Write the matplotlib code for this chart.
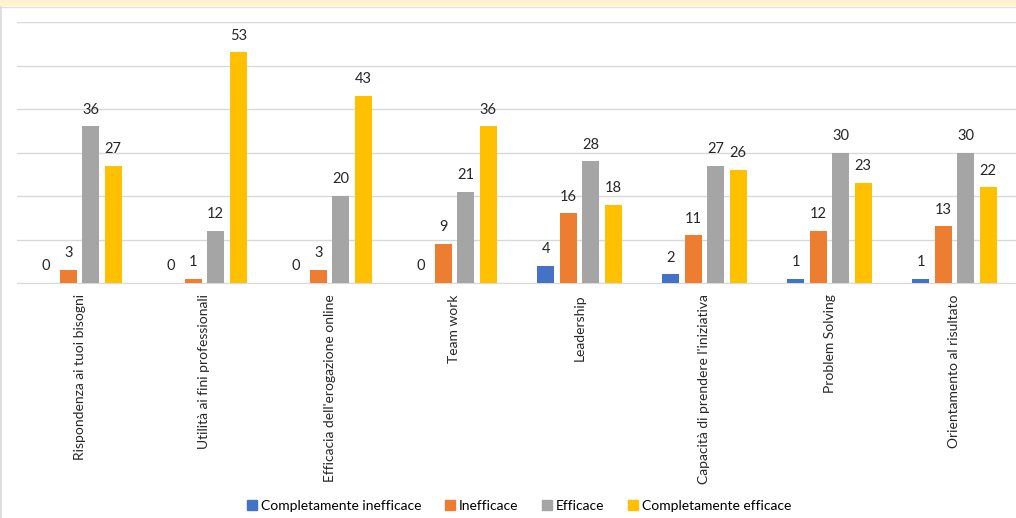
import matplotlib.pyplot as plt
import matplotlib.patches as mpatches
import numpy as np

categories = ["Rispondenza ai tuoi bisogni", "Utilità ai fini professionali",
              "Efficacia dell'erogazione online", "Team work", "Leadership",
              "Capacità di prendere l'iniziativa", "Problem Solving",
              "Orientamento al risultato"]
series_names = ["Completamente inefficace", "Inefficace", "Efficace", "Completamente efficace"]
comp_ineff = [0, 0, 0, 0, 4, 2, 1, 1]
ineff = [3, 1, 3, 9, 16, 11, 12, 13]
eff = [36, 12, 20, 21, 28, 27, 30, 30]
comp_eff = [27, 53, 43, 36, 18, 26, 23, 22]
colors = ["#4472C4", "#ED7D31", "#A5A5A5", "#FFC000"]

plt.rcParams['font.family'] = ['Lato', 'DejaVu Sans']

fig = plt.figure(figsize=(10.16, 5.18), dpi=100)
# top band + frame
fig.patches.append(mpatches.Rectangle((0, 1 - 6 / 518), 1, 6 / 518, transform=fig.transFigure,
                                      facecolor="#FFF2CC", edgecolor="none"))
fig.lines.append(plt.Line2D([0, 1], [1 - 6.5 / 518] * 2, transform=fig.transFigure, color="#E0E0E0", lw=1))
fig.lines.append(plt.Line2D([0.7 / 1016] * 2, [0, 1 - 6.5 / 518], transform=fig.transFigure, color="#D9D9D9", lw=1.2))

ax = fig.add_axes([17 / 1016, 1 - 283 / 518, 1000 / 1016, 261 / 518])
x = np.arange(len(categories))
data = [comp_ineff, ineff, eff, comp_eff]
w = 0.136
step = 0.18
for i, (vals, name, c) in enumerate(zip(data, series_names, colors)):
    pos = x + (i - 1.5) * step
    ax.bar(pos, vals, width=w, color=c, label=name, zorder=3)
    for p, v in zip(pos, vals):
        ax.text(p, v + 2.2, str(v), ha="center", va="bottom", fontsize=10.5, color="#262626")

ax.set_xlim(-0.5, len(categories) - 0.5)
ax.set_ylim(0, 60)
ax.set_yticks(range(0, 61, 10))
ax.yaxis.grid(True, color="#D9D9D9", lw=1, zorder=0)
ax.tick_params(axis="y", length=0, labelleft=False)
ax.tick_params(axis="x", length=0, pad=8)
ax.set_xticks(x)
ax.set_xticklabels(categories, rotation=90, fontsize=10, color="#262626")
for s in ["top", "right", "left"]:
    ax.spines[s].set_visible(False)
ax.spines["bottom"].set_color("#D9D9D9")

handles = [mpatches.Patch(color=c) for c in colors]
fig.legend(handles, series_names, loc="lower center", bbox_to_anchor=(0.511, -0.012), ncol=4,
           frameon=False, fontsize=10, handlelength=0.7, handleheight=0.7, handletextpad=0.3,
           columnspacing=1.7)

plt.savefig("out.png", dpi=100)
